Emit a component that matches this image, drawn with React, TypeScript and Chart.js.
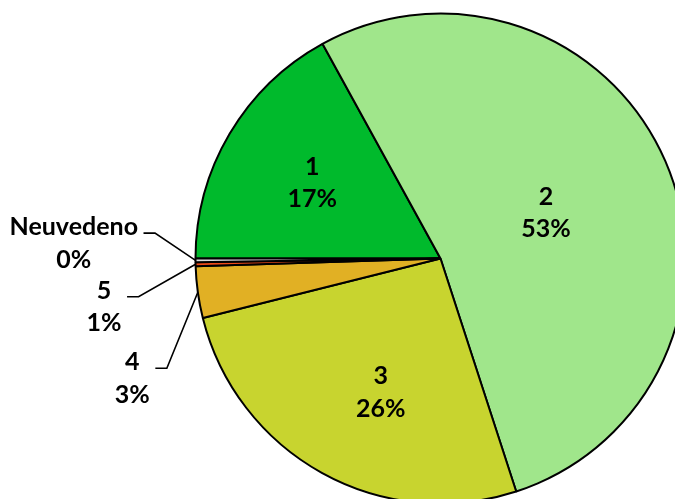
import React, { useEffect, useRef } from "react";
import { Chart, registerables } from "chart.js";

Chart.register(...registerables);

// ---- data ----
const categories = ["1", "2", "3", "4", "5", "Neuvedeno"];
const values = [17.0, 53.0, 26.1, 3.4, 0.26, 0.24];
const percentLabels = ["17%", "53%", "26%", "3%", "1%", "0%"];
const colors = ["#00BA2C", "#A0E68B", "#C8D42F", "#E1B024", "#EE4A18", "#DCDCDC"];

// ---- label placement (style config) ----
// inside labels: radial fraction of radius, angle offset in degrees from slice mid-angle
const insidePlacement: Record<number, { rf: number; da: number }> = {
  0: { rf: 0.61, da: 0.2 },
  1: { rf: 0.47, da: -0.3 },
  2: { rf: 0.595, da: -4.8 },
};
// outside labels: leader-line knee offset from the slice rim point
const outsidePlacement: Record<number, { kx: number; ky: number }> = {
  3: { kx: -31, ky: 76 },
  4: { kx: -57, ky: 32.6 },
  5: { kx: -40.5, ky: -27.2 },
};

const FONT = "bold 25px Lato";
const LINE_H = 32.5;
const CAP_HALF = 9;

const labelPlugin = {
  id: "pieLabels",
  afterDatasetsDraw(chart: any) {
    const ctx: CanvasRenderingContext2D = chart.ctx;
    const meta = chart.getDatasetMeta(0);
    ctx.save();
    ctx.font = FONT;
    ctx.fillStyle = "#000";
    ctx.strokeStyle = "#000";
    ctx.lineWidth = 1.6;
    meta.data.forEach((arc: any, i: number) => {
      const { x, y, startAngle, endAngle, outerRadius } = arc.getProps(
        ["x", "y", "startAngle", "endAngle", "outerRadius"],
        true
      );
      const mid = (startAngle + endAngle) / 2;
      const lines = [categories[i], percentLabels[i]];
      if (insidePlacement[i]) {
        const p = insidePlacement[i];
        const a = mid + (p.da * Math.PI) / 180;
        const r = outerRadius * p.rf;
        const cx = x + Math.cos(a) * r;
        const cy = y + Math.sin(a) * r;
        ctx.textAlign = "center";
        ctx.textBaseline = "alphabetic";
        ctx.fillText(lines[0], cx, cy - LINE_H / 2 + CAP_HALF);
        ctx.fillText(lines[1], cx, cy + LINE_H / 2 + CAP_HALF);
      } else if (outsidePlacement[i]) {
        const p = outsidePlacement[i];
        const rx = x + Math.cos(mid) * outerRadius;
        const ry = y + Math.sin(mid) * outerRadius;
        const kx = rx + p.kx;
        const ky = ry + p.ky;
        const ex = kx - 11.5;
        ctx.beginPath();
        ctx.moveTo(rx, ry);
        ctx.lineTo(kx, ky);
        ctx.lineTo(ex, ky);
        ctx.stroke();
        const w = Math.max(...lines.map((l) => ctx.measureText(l).width));
        const right = ex - 5.5;
        const cx = right - w / 2;
        const c1 = ky - 6.8;
        ctx.textAlign = "center";
        ctx.textBaseline = "alphabetic";
        ctx.fillText(lines[0], cx, c1 + CAP_HALF);
        ctx.fillText(lines[1], cx, c1 + LINE_H + CAP_HALF);
      }
    });
    ctx.restore();
  },
};

export default function App() {
  const ref = useRef<HTMLCanvasElement | null>(null);
  useEffect(() => {
    if (!ref.current) return;
    const chart = new Chart(ref.current, {
      type: "pie",
      data: {
        labels: categories,
        datasets: [
          {
            data: values,
            backgroundColor: colors,
            borderColor: "#000",
            borderWidth: 2,
            radius: 245,
          } as any,
        ],
      },
      options: {
        responsive: false,
        animation: false,
        rotation: 270,
        layout: { padding: { left: 195.5, right: 14.5, top: 13.5, bottom: 16.5 } },
        plugins: {
          legend: { display: false },
          tooltip: { enabled: false },
        },
      },
      plugins: [labelPlugin],
    });
    return () => chart.destroy();
  }, []);
  return (
    <div
      style={{
        position: "absolute",
        left: 0,
        top: 0,
        width: 675,
        height: 499,
        overflow: "hidden",
        background: "#fff",
      }}
    >
      <canvas ref={ref} width={700} height={520} style={{ display: "block" }} />
    </div>
  );
}
